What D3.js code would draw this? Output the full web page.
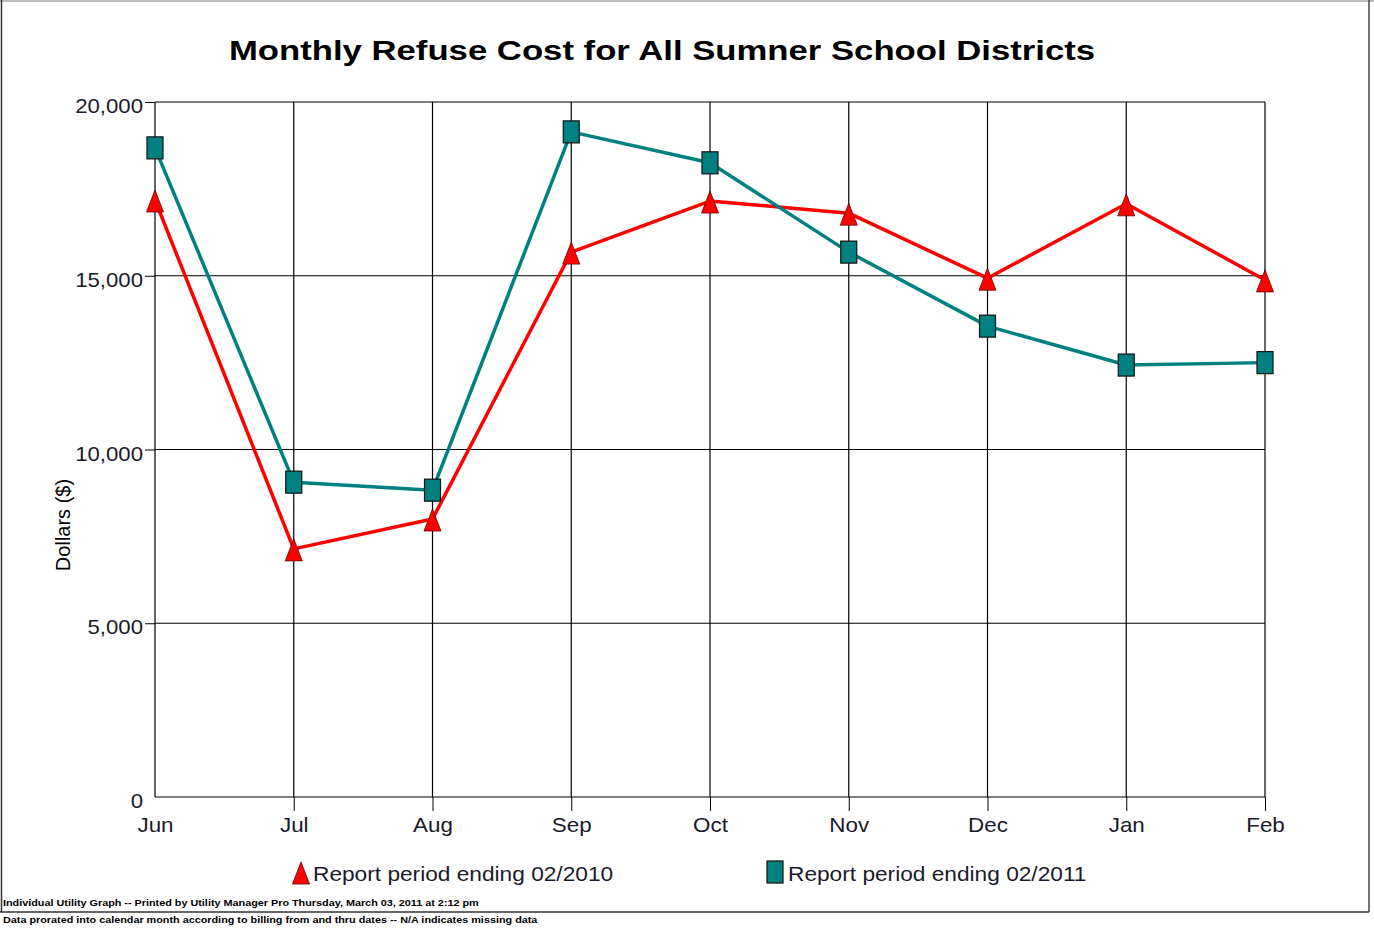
<!DOCTYPE html>
<html><head><meta charset="utf-8">
<script src="https://cdn.jsdelivr.net/npm/d3@7"></script>
<style>
html,body{margin:0;padding:0;background:#fff;}
svg{display:block;font-family:"Liberation Sans",Arial,sans-serif;}
</style></head>
<body>
<svg id="chart" width="1374" height="930"></svg>
<script>
const months = ["Jun","Jul","Aug","Sep","Oct","Nov","Dec","Jan","Feb"];
const series2010 = [17180, 7140, 8000, 15680, 17150, 16800, 14930, 17070, 14880];
const series2011 = [18680, 9060, 8830, 19140, 18250, 15680, 13550, 12430, 12500];
const yTicks = [0, 5000, 10000, 15000, 20000];
const seriesNames = ["Report period ending 02/2010", "Report period ending 02/2011"];
const titleText = "Monthly Refuse Cost for All Sumner School Districts";
const yTitle = "Dollars ($)";
const footer1 = "Individual Utility Graph -- Printed by Utility Manager Pro Thursday, March 03, 2011 at 2:12 pm";
const footer2 = "Data prorated into calendar month according to billing from and thru dates -- N/A indicates missing data";

const svg = d3.select("#chart");
const L = 155, R = 1265, T = 102, B = 797;
const x = d3.scalePoint().domain(months).range([L, R]);
const y = d3.scaleLinear().domain([0, 20000]).range([B, T]);
const txtCol = "#1a1a2a";

function stext(px, py, sx, str, size, opts = {}) {
  const t = svg.append("text")
    .attr("transform", `translate(${px},${py}) scale(${sx},1)`)
    .attr("font-size", size)
    .attr("fill", opts.fill || txtCol)
    .attr("text-anchor", opts.anchor || "start")
    .text(str);
  if (opts.bold) t.attr("font-weight", "bold");
  return t;
}

// page border
svg.append("line").attr("x1",0).attr("x2",1374).attr("y1",1).attr("y2",1).attr("stroke","#b8bcbf").attr("stroke-width",2);
svg.append("line").attr("x1",1.5).attr("x2",1.5).attr("y1",0).attr("y2",912).attr("stroke","#333").attr("stroke-width",1.5);
svg.append("line").attr("x1",1369).attr("x2",1369).attr("y1",0).attr("y2",912).attr("stroke","#444").attr("stroke-width",1.5);
svg.append("line").attr("x1",0).attr("x2",1369).attr("y1",912).attr("y2",912).attr("stroke","#333").attr("stroke-width",1.5);

// title
stext(662, 60, 1.24, titleText, 28, {anchor:"middle", bold:true, fill:"#000"});

// y grid + axis
const yAxis = d3.axisLeft(y).tickValues(yTicks).tickFormat(d3.format(",")).tickSize(10).tickPadding(2);
const gy = svg.append("g").attr("transform",`translate(${L},0)`).call(yAxis);
gy.select(".domain").remove();
gy.selectAll(".tick line").attr("stroke","#000").attr("x2",d => d===0 ? 0 : -10);
gy.selectAll(".tick text").attr("font-size",20).attr("fill",txtCol)
  .attr("font-family","Liberation Sans, Arial, sans-serif")
  .attr("x",0).attr("dy","0").attr("transform","translate(-12,10.5) scale(1.11,1)");
svg.append("g").selectAll("line").data(yTicks).join("line")
  .attr("x1",L).attr("x2",R).attr("y1",d=>y(d)).attr("y2",d=>y(d))
  .attr("stroke","#000").attr("stroke-width",1.2);

// x grid + axis
const xAxis = d3.axisBottom(x).tickSize(14).tickPadding(6);
const gx = svg.append("g").attr("transform",`translate(0,${B})`).call(xAxis);
gx.select(".domain").remove();
gx.selectAll(".tick line").attr("stroke","#000").attr("y2",(d,i)=> i===0 ? 0 : 14);
gx.selectAll(".tick text").attr("font-size",20).attr("fill",txtCol)
  .attr("font-family","Liberation Sans, Arial, sans-serif")
  .attr("y",0).attr("dy","0").attr("transform","translate(0,35) scale(1.12,1)");
svg.append("g").selectAll("line").data(months).join("line")
  .attr("x1",d=>x(d)).attr("x2",d=>x(d)).attr("y1",T).attr("y2",B)
  .attr("stroke","#000").attr("stroke-width",1.2);

// y title
svg.append("text").attr("transform","translate(70,525) rotate(-90)").attr("text-anchor","middle")
  .attr("font-size",20).attr("fill","#000").text(yTitle);

const line = d3.line().x((d,i)=>x(months[i])).y(d=>y(d));
const red = "#ff0000", teal = "#008080";

svg.append("path").datum(series2010).attr("d",line).attr("fill","none").attr("stroke",red).attr("stroke-width",3.5).attr("stroke-linejoin","round");
svg.append("path").datum(series2011).attr("d",line).attr("fill","none").attr("stroke",teal).attr("stroke-width",3.5).attr("stroke-linejoin","round");

function tri(cx, cy){ return `M${cx},${cy-11} L${cx+8.5},${cy+11} L${cx-8.5},${cy+11} Z`; }

// markers teal squares
svg.append("g").selectAll("rect").data(series2011).join("rect")
  .attr("x",(d,i)=>x(months[i])-8).attr("y",d=>y(d)-11).attr("width",16).attr("height",22)
  .attr("fill",teal).attr("stroke","#111").attr("stroke-width",1.2);
// red triangles
svg.append("g").selectAll("path").data(series2010).join("path")
  .attr("d",(d,i)=>tri(x(months[i]), y(d)+1))
  .attr("fill",red).attr("stroke","#600").attr("stroke-width",0.8);

// legend
svg.append("path").attr("d",tri(301,873)).attr("fill",red).attr("stroke","#600").attr("stroke-width",0.8);
stext(313, 881, 1.135, seriesNames[0], 20);
svg.append("rect").attr("x",767).attr("y",861).attr("width",16).attr("height",22).attr("fill",teal).attr("stroke","#111").attr("stroke-width",1.2);
stext(788, 881, 1.135, seriesNames[1], 20);

// footer
stext(3, 906, 1.14, footer1, 9.5, {bold:true, fill:"#000"});
stext(3, 923, 1.14, footer2, 9.5, {bold:true, fill:"#000"});
</script>
</body></html>
